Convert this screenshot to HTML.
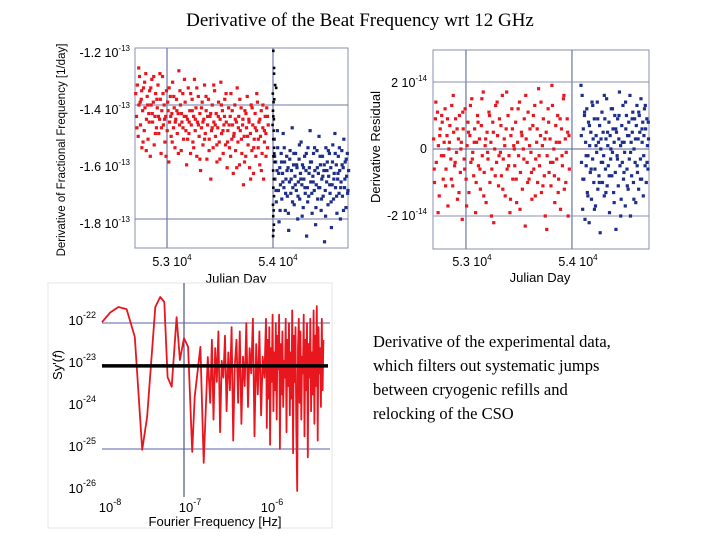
<!DOCTYPE html>
<html><head><meta charset="utf-8"><style>
html,body{margin:0;padding:0;background:#fff;}
svg{display:block;}
.ser{font-family:"Liberation Serif",serif;}
.san{font-family:"Liberation Sans",sans-serif;}
</style></head><body>
<svg id="root" width="720" height="540" viewBox="0 0 720 540" xmlns="http://www.w3.org/2000/svg">
<text class="ser" x="360" y="26" font-size="19" text-anchor="middle">Derivative of the Beat Frequency wrt 12 GHz</text>

<g class="ser" font-size="16.5" fill="#000">
<text x="373" y="347">Derivative of the experimental data,</text>
<text x="373" y="371">which filters out systematic jumps</text>
<text x="373" y="395">between cryogenic refills and</text>
<text x="373" y="419">relocking of the CSO</text>
</g>

<g id="c1">
<rect x="135" y="48" width="213" height="200" fill="#fff" stroke="#8a8fb0" stroke-width="1"/>
<g id="c1grid"></g>
<g id="c1pts"></g>
<g class="san" font-size="12.5" text-anchor="end">
<text x="130" y="57">-1.2 10<tspan font-size="8" dy="-6">-13</tspan></text>
<text x="130" y="114">-1.4 10<tspan font-size="8" dy="-6">-13</tspan></text>
<text x="130" y="171">-1.6 10<tspan font-size="8" dy="-6">-13</tspan></text>
<text x="130" y="228">-1.8 10<tspan font-size="8" dy="-6">-13</tspan></text>
</g>
<g class="san" font-size="12.5" text-anchor="middle">
<text x="172" y="266">5.3 10<tspan font-size="8" dy="-6">4</tspan></text>
<text x="278" y="266">5.4 10<tspan font-size="8" dy="-6">4</tspan></text>
</g>
<text class="san" x="236" y="283" font-size="13" text-anchor="middle">Julian Day</text>
<text class="san" transform="translate(65,150) rotate(-90)" font-size="11.5" text-anchor="middle">Derivative of Fractional Frequency [1/day]</text>
</g>

<g id="c2">
<rect x="433" y="50" width="216" height="199" fill="#fff" stroke="#8a8fb0" stroke-width="1"/>
<g id="c2grid"></g>
<g id="c2pts"></g>
<g class="san" font-size="12.5" text-anchor="end">
<text x="427" y="87">2 10<tspan font-size="8" dy="-6">-14</tspan></text>
<text x="427" y="153">0</text>
<text x="427" y="220">-2 10<tspan font-size="8" dy="-6">-14</tspan></text>
</g>
<g class="san" font-size="12.5" text-anchor="middle">
<text x="472" y="266">5.3 10<tspan font-size="8" dy="-6">4</tspan></text>
<text x="578" y="266">5.4 10<tspan font-size="8" dy="-6">4</tspan></text>
</g>
<text class="san" x="540" y="282" font-size="13" text-anchor="middle">Julian Day</text>
<text class="san" transform="translate(380,147) rotate(-90)" font-size="13" text-anchor="middle">Derivative Residual</text>
</g>

<g id="c3">
<rect x="48" y="283" width="284" height="245" fill="#fff" stroke="#e4e4e4" stroke-width="1"/>
<g id="c3grid"></g>
<g id="c3line"></g>
<g class="san" font-size="13" text-anchor="end">
<text x="96" y="325">10<tspan font-size="9" dy="-7">-22</tspan></text>
<text x="96" y="367">10<tspan font-size="9" dy="-7">-23</tspan></text>
<text x="96" y="409">10<tspan font-size="9" dy="-7">-24</tspan></text>
<text x="96" y="451">10<tspan font-size="9" dy="-7">-25</tspan></text>
<text x="96" y="493">10<tspan font-size="9" dy="-7">-26</tspan></text>
</g>
<g class="san" font-size="13" text-anchor="middle">
<text x="110" y="512">10<tspan font-size="9" dy="-7">-8</tspan></text>
<text x="190" y="512">10<tspan font-size="9" dy="-7">-7</tspan></text>
<text x="272" y="512">10<tspan font-size="9" dy="-7">-6</tspan></text>
</g>
<text class="san" x="215" y="526" font-size="13" text-anchor="middle">Fourier Frequency [Hz]</text>
<text class="san" transform="translate(62,365) rotate(-90)" font-size="13" text-anchor="middle">Sy'(<tspan font-style="italic">f</tspan>)</text>
</g>
</svg>
<script>
const c1RedX=[52705,52712,52720,52728,52735,52741,52750,52757,52763,52770,52778,52785,52792,52800,52806,52813,52821,52828,52836,52842,52850,52857,52864,52871,52879,52886,52893,52900,52908,52915,52922,52930,52937,52944,52951,52958,52966,52973,52980,52988,52995,53002,53010,53017,53024,53031,53039,53046,53053,53061,53068,53075,53083,53090,53097,53105,53112,53119,53127,53134,53141,53149,53156,53163,53171,53178,53185,53193,53200,53207,53215,53222,53229,53237,53244,53251,53259,53266,53273,53281,53288,53295,53303,53310,53317,53325,53332,53339,53347,53354,53361,53369,53376,53383,53391,53398,53405,53413,53420,53427,53435,53442,53449,53457,53464,53471,53479,53486,53493,53501,53508,53515,53523,53530,53537,53545,53552,53559,53567,53574,53581,53589,53596,53603,53611,53618,53625,53633,53640,53647,53655,53662,53669,53677,53684,53691,53699,53706,53713,53721,53728,53735,53743,53750,53757,53765,53772,53779,53787,53794,53801,53809,53816,53823,53831,53838,53845,53853,53860,53867,53875,53882,53889,53897,53904,53911,53919,53926,53933,53941,53948,53955,
52716,52733,52747,52761,52774,52789,52804,52818,52832,52847,52861,52875,52890,52904,52919,52933,52947,52962,52977,52991,53006,53020,53035,53049,53064,53078,53093,53107,53122,53136,53151,53165,53180,53194,53209,53223,53238,53252,53267,53281,53296,53310,53325,53339,53354,53368,53383,53397,53412,53426,53441,53455,53470,53484,53499,53513,53528,53542,53557,53571,53586,53600,53615,53629,53644,53658,53673,53687,53702,53716,53731,53745,53760,53774,53789,53803,53818,53832,53847,53861,53876,53890,53905,53919,53934,53948];
const c1RedY=[-1.36,-1.44,-1.33,-1.51,-1.40,-1.30,-1.47,-1.38,-1.55,-1.42,-1.34,-1.49,-1.41,-1.29,-1.45,-1.37,-1.52,-1.43,-1.35,-1.58,-1.40,-1.31,-1.46,-1.39,-1.54,-1.44,-1.36,-1.48,-1.41,-1.33,-1.50,-1.45,-1.38,-1.57,-1.42,-1.30,-1.47,-1.40,-1.53,-1.44,-1.35,-1.49,-1.42,-1.60,-1.46,-1.37,-1.51,-1.43,-1.32,-1.48,-1.41,-1.55,-1.45,-1.38,-1.50,-1.43,-1.28,-1.47,-1.40,-1.56,-1.46,-1.36,-1.52,-1.44,-1.39,-1.49,-1.61,-1.45,-1.34,-1.50,-1.42,-1.57,-1.47,-1.38,-1.53,-1.44,-1.31,-1.49,-1.41,-1.58,-1.46,-1.37,-1.51,-1.43,-1.63,-1.48,-1.39,-1.54,-1.45,-1.33,-1.50,-1.42,-1.59,-1.47,-1.38,-1.52,-1.44,-1.66,-1.49,-1.40,-1.55,-1.46,-1.35,-1.51,-1.43,-1.60,-1.48,-1.39,-1.53,-1.45,-1.32,-1.50,-1.42,-1.57,-1.47,-1.38,-1.54,-1.46,-1.62,-1.49,-1.41,-1.55,-1.44,-1.36,-1.52,-1.47,-1.64,-1.50,-1.40,-1.56,-1.46,-1.34,-1.53,-1.44,-1.61,-1.49,-1.41,-1.57,-1.47,-1.68,-1.51,-1.42,-1.58,-1.48,-1.37,-1.54,-1.45,-1.62,-1.50,-1.40,-1.56,-1.47,-1.64,-1.52,-1.43,-1.58,-1.49,-1.39,-1.55,-1.46,-1.61,-1.51,-1.42,-1.57,-1.48,-1.66,-1.53,-1.44,-1.50,-1.41,-1.55,-1.47,
-1.48,-1.27,-1.39,-1.35,-1.53,-1.32,-1.56,-1.40,-1.46,-1.34,-1.43,-1.30,-1.50,-1.38,-1.44,-1.29,-1.48,-1.36,-1.45,-1.58,-1.39,-1.34,-1.44,-1.53,-1.37,-1.46,-1.42,-1.57,-1.35,-1.43,-1.48,-1.31,-1.44,-1.52,-1.46,-1.36,-1.42,-1.55,-1.45,-1.34,-1.47,-1.59,-1.41,-1.46,-1.52,-1.37,-1.44,-1.56,-1.43,-1.48,-1.33,-1.47,-1.54,-1.44,-1.59,-1.40,-1.49,-1.44,-1.36,-1.53,-1.47,-1.58,-1.42,-1.51,-1.45,-1.62,-1.48,-1.38,-1.52,-1.45,-1.60,-1.43,-1.51,-1.46,-1.66,-1.41,-1.55,-1.48,-1.36,-1.52,-1.45,-1.63,-1.40,-1.49,-1.58,-1.44];
const c1BlueX=[54012,54018,54025,54031,54038,54044,54051,54057,54064,54070,54077,54083,54090,54096,54103,54109,54116,54122,54129,54135,54142,54148,54155,54161,54168,54174,54181,54187,54194,54200,54207,54213,54220,54226,54233,54239,54246,54252,54259,54265,54272,54278,54285,54291,54298,54304,54311,54317,54324,54330,54337,54343,54350,54356,54363,54369,54376,54382,54389,54395,54402,54408,54415,54421,54428,54434,54441,54447,54454,54460,54467,54473,54480,54486,54493,54499,54506,54512,54519,54525,54532,54538,54545,54551,54558,54564,54571,54577,54584,54590,54597,54603,54610,54616,54623,54629,54636,54642,54649,54655,54662,54668,54675,54681,54688,54694,54701,54707,54713,
54015,54028,54041,54054,54067,54080,54093,54106,54119,54132,54145,54158,54171,54184,54197,54210,54223,54236,54249,54262,54275,54288,54301,54314,54327,54340,54353,54366,54379,54392,54405,54418,54431,54444,54457,54470,54483,54496,54509,54522,54535,54548,54561,54574,54587,54600,54613,54626,54639,54652,54665,54678,54691,54704];
const c1BlueY=[-1.52,-1.66,-1.60,-1.74,-1.63,-1.55,-1.70,-1.81,-1.62,-1.68,-1.57,-1.73,-1.64,-1.50,-1.69,-1.60,-1.77,-1.66,-1.58,-1.72,-1.62,-1.84,-1.67,-1.56,-1.71,-1.63,-1.48,-1.69,-1.61,-1.75,-1.65,-1.57,-1.70,-1.62,-1.80,-1.67,-1.59,-1.73,-1.64,-1.53,-1.68,-1.61,-1.76,-1.66,-1.58,-1.71,-1.63,-1.86,-1.69,-1.55,-1.72,-1.62,-1.49,-1.67,-1.60,-1.78,-1.65,-1.57,-1.70,-1.63,-1.82,-1.68,-1.56,-1.73,-1.64,-1.51,-1.69,-1.61,-1.77,-1.66,-1.58,-1.72,-1.63,-1.88,-1.70,-1.55,-1.67,-1.60,-1.75,-1.65,-1.57,-1.71,-1.62,-1.83,-1.68,-1.54,-1.73,-1.64,-1.50,-1.69,-1.61,-1.78,-1.66,-1.58,-1.71,-1.63,-1.80,-1.67,-1.56,-1.72,-1.62,-1.52,-1.69,-1.60,-1.76,-1.65,-1.57,-1.70,-1.63,
-1.58,-1.70,-1.49,-1.64,-1.77,-1.60,-1.67,-1.55,-1.71,-1.63,-1.78,-1.59,-1.66,-1.74,-1.57,-1.68,-1.61,-1.72,-1.54,-1.66,-1.79,-1.62,-1.69,-1.57,-1.74,-1.64,-1.60,-1.71,-1.67,-1.55,-1.76,-1.62,-1.69,-1.58,-1.73,-1.65,-1.61,-1.79,-1.63,-1.56,-1.68,-1.74,-1.60,-1.66,-1.57,-1.72,-1.64,-1.55,-1.69,-1.61,-1.77,-1.66,-1.59,-1.71];
const c1BlackX=[54003,54010,54020,54030,53998,54005,54012,54000,54008,53996,54006,54002,54010,54004,54015,54001,54007,54003,54009,54000,54006,54002,54008,54004,54001,54010,54003,54012];
const c1BlackY=[-1.21,-1.27,-1.33,-1.34,-1.36,-1.39,-1.38,-1.42,-1.45,-1.47,-1.49,-1.52,-1.55,-1.58,-1.60,-1.63,-1.66,-1.69,-1.72,-1.75,-1.77,-1.79,-1.82,-1.84,-1.86,-1.29,-1.44,-1.57];
const c1GridX=[53000,54000];
const c1GridY=[-1.4,-1.8];

const c2RedX=[52695,52703,52712,52720,52731,52740,52748,52757,52768,52776,52785,52794,52803,52812,52821,52830,52839,52848,52857,52866,52875,52884,52893,52902,52911,52920,52929,52938,52947,52956,52965,52974,52983,52992,53001,53010,53019,53028,53037,53046,53055,53064,53073,53082,53091,53100,53109,53118,53127,53136,53145,53154,53163,53172,53181,53190,53199,53208,53217,53226,53235,53244,53253,53262,53271,53280,53289,53298,53307,53316,53325,53334,53343,53352,53361,53370,53379,53388,53397,53406,53415,53424,53433,53442,53451,53460,53469,53478,53487,53496,53505,53514,53523,53532,53541,53550,53559,53568,53577,53586,53595,53604,53613,53622,53631,53640,53649,53658,53667,53676,53685,53694,53703,53712,53721,53730,53739,53748,53757,53766,53775,53784,53793,53802,53811,53820,53829,53838,53847,53856,53865,53874,53883,53892,53901,53910,53919,53928,53937,53946,53955,53964,53972,
52700,52716,52737,52753,52771,52790,52808,52826,52844,52862,52880,52898,52916,52934,52952,52970,52988,53006,53024,53042,53060,53078,53096,53114,53132,53150,53168,53186,53204,53222,53240,53258,53276,53294,53312,53330,53348,53366,53384,53402,53420,53438,53456,53474,53492,53510,53528,53546,53564,53582,53600,53618,53636,53654,53672,53690,53708,53726,53744,53762,53780,53798,53816,53834,53852,53870,53888,53906,53924,53942,53960,53975];
const c2RedY=[0.3,-1.0,0.9,-0.4,1.1,0.1,-1.4,0.6,-0.2,0.8,-0.9,0.2,1.2,-0.6,0.4,-1.7,0.0,0.7,-0.3,1.3,-1.1,0.5,-0.5,0.9,-0.1,-1.5,0.3,1.0,-0.7,0.2,-2.1,0.6,-0.3,1.2,-0.9,0.1,0.8,-1.3,0.4,-0.4,1.5,-0.1,-0.8,0.6,-1.9,0.2,1.0,-0.5,0.3,-1.2,0.7,-0.2,1.7,-0.7,0.1,-1.6,0.5,-0.3,1.1,-1.0,0.2,-0.6,0.8,-2.2,0.0,1.3,-0.4,0.4,-1.1,0.9,-0.1,-0.8,1.6,-0.3,0.3,-1.4,0.6,-0.6,1.0,-0.2,-1.9,0.4,1.2,-0.9,0.1,-0.5,0.8,-1.6,0.2,-0.2,1.4,-0.7,0.5,-1.2,0.0,0.9,-2.3,0.3,-0.4,1.1,-0.9,0.6,-0.1,-1.5,0.7,-0.6,1.3,-0.3,0.2,-1.0,1.8,-0.5,0.4,-1.3,0.1,0.9,-0.8,-2.0,0.5,-0.2,1.2,-0.7,0.3,-1.1,1.9,-0.4,0.0,-1.6,0.7,-0.3,1.0,-0.9,0.2,-1.8,0.6,-0.5,1.5,-1.2,0.3,-0.1,0.9,-2.0,0.4,
-0.6,1.4,-1.9,0.4,1.0,-0.2,-1.1,0.9,0.2,-0.9,1.6,-0.4,0.6,-1.3,0.0,1.1,-0.6,-1.7,0.5,1.3,-0.3,0.2,-1.0,0.8,-0.6,1.5,-1.4,0.3,-0.1,1.0,-2.0,0.5,-0.8,1.4,-0.2,0.7,-1.2,0.1,1.7,-0.5,-1.5,0.6,0.0,-0.9,1.2,-1.8,0.4,-0.3,1.6,-1.0,0.1,-0.7,1.0,-1.4,0.6,-0.2,1.4,-1.1,0.3,-2.4,0.8,-0.4,1.3,-0.8,0.2,-1.3,0.9,-0.2,1.6,-1.0,0.5,-0.6];
const c2BlueX=[54085,54090,54096,54101,54107,54112,54118,54123,54129,54134,54140,54145,54151,54156,54162,54167,54173,54178,54184,54189,54195,54200,54206,54211,54217,54222,54228,54233,54239,54244,54250,54255,54261,54266,54272,54277,54283,54288,54294,54299,54305,54310,54316,54321,54327,54332,54338,54343,54349,54354,54360,54365,54371,54376,54382,54387,54393,54398,54404,54409,54415,54420,54426,54431,54437,54442,54448,54453,54459,54464,54470,54475,54481,54486,54492,54497,54503,54508,54514,54519,54525,54530,54536,54541,54547,54552,54558,54563,54569,54574,54580,54585,54591,54596,54602,54607,54613,54618,54624,54629,54635,54640,54646,54651,54657,54662,54668,54673,54679,54684,54690,54695,54701,54706,54712,54717,54722,
54088,54103,54119,54134,54150,54165,54181,54196,54212,54227,54243,54258,54274,54289,54305,54320,54336,54351,54367,54382,54398,54413,54429,54444,54460,54475,54491,54506,54522,54537,54553,54568,54584,54599,54615,54630,54646,54661,54677,54692,54708,54720];
const c2BlueY=[1.9,-0.4,1.6,-1.8,0.6,-0.9,1.0,-2.1,0.2,-0.5,1.2,-1.3,-0.2,0.8,-2.2,0.1,-0.7,0.5,-1.5,1.4,-0.3,0.3,-1.0,0.9,-0.6,-1.7,0.4,-0.1,1.4,-1.2,0.2,-0.8,0.7,-2.5,0.0,-0.4,1.1,-1.0,0.5,-0.2,-1.4,0.9,-0.6,0.3,1.5,-1.1,0.1,-0.5,0.8,-1.9,0.4,-0.3,1.2,-0.8,-0.1,0.6,-1.3,0.2,1.0,-0.7,-2.4,0.5,-0.2,0.9,-1.1,0.3,1.7,-0.5,0.1,-1.5,0.7,-0.4,1.3,-0.9,0.2,-0.1,-1.7,0.6,1.0,-0.6,0.4,-1.2,0.8,-0.3,1.6,-2.0,0.2,-0.8,0.5,1.1,-1.0,0.0,0.9,-0.4,-1.6,0.7,1.3,-0.7,0.3,-1.2,1.0,0.5,-0.3,1.5,-0.9,0.2,0.8,-1.4,0.4,1.2,-0.5,0.6,-1.0,0.9,0.1,-0.6,0.3,
0.4,-0.9,1.1,-0.2,-1.4,0.7,-0.6,1.3,-1.8,0.1,0.9,-1.0,0.3,-0.4,1.6,-1.3,0.5,-0.8,0.0,1.2,-1.6,0.6,-0.3,1.0,-2.0,0.2,-0.7,1.4,-1.1,0.4,-0.1,0.9,-1.5,0.3,-0.5,1.1,-0.9,0.6,-0.2,1.3,-0.4,0.8];
const c2GridX=[53000,54000];
const c2GridY=[2,0,-2];

const c3LogF=[-8.00,-7.90,-7.80,-7.70,-7.60,-7.51,-7.45,-7.35,-7.29,-7.24,-7.20,-7.15,-7.09,-7.05,-7.00,-6.95,-6.90,-6.87,-6.80,-6.76,-6.71,-6.68,-6.66,-6.64,-6.62,-6.60,-6.58,-6.56,-6.54,-6.52,-6.50,-6.48,-6.46,-6.44,-6.42,-6.40,-6.38,-6.36,-6.34,-6.32,-6.30,-6.28,-6.26,-6.24,-6.22,-6.20,-6.18,-6.16,-6.14,-6.12,-6.10,-6.08,-6.06,-6.04,-6.02,-6.00,-5.99,-5.98,-5.97,-5.96,-5.95,-5.94,-5.93,-5.92,-5.91,-5.90,-5.89,-5.88,-5.87,-5.86,-5.85,-5.84,-5.83,-5.82,-5.81,-5.80,-5.79,-5.78,-5.77,-5.76,-5.75,-5.74,-5.73,-5.72,-5.71,-5.70,-5.69,-5.68,-5.67,-5.66,-5.65,-5.64,-5.63,-5.62,-5.61,-5.60,-5.59,-5.58,-5.57,-5.56,-5.55,-5.54,-5.53,-5.52,-5.51,-5.50,-5.49,-5.48,-5.47,-5.46,-5.45,-5.44,-5.43,-5.42,-5.41,-5.40,-5.39,-5.38,-5.37,-5.36,-5.35,-5.34,-5.33,-5.32,-5.31,-5.30];
const c3LogS=[-21.98,-21.75,-21.62,-21.67,-22.33,-25.02,-24.24,-21.62,-21.38,-21.50,-23.29,-23.52,-21.86,-22.88,-22.36,-22.57,-25.07,-23.76,-22.57,-25.33,-22.81,-23.9,-22.4,-24.3,-22.6,-23.4,-22.2,-24.6,-22.9,-23.3,-22.3,-24.1,-22.7,-23.6,-22.1,-24.8,-23.0,-22.4,-23.9,-22.2,-24.4,-22.8,-23.5,-22.0,-24.0,-22.6,-23.2,-21.9,-24.7,-22.5,-23.7,-22.2,-24.2,-22.8,-23.3,-21.9,-24.5,-22.4,-23.8,-22.1,-24.9,-22.6,-23.4,-21.8,-24.1,-22.7,-23.6,-22.0,-24.3,-22.3,-23.1,-21.8,-25.0,-22.5,-23.7,-22.2,-24.0,-22.9,-23.3,-21.9,-24.6,-22.4,-23.5,-22.0,-24.2,-22.7,-23.8,-21.7,-25.1,-22.3,-23.4,-22.1,-24.5,-26.0,-22.6,-21.9,-23.9,-22.2,-24.3,-22.8,-23.2,-21.8,-24.7,-22.4,-23.6,-22.0,-25.2,-22.5,-23.3,-21.9,-24.1,-22.7,-23.7,-21.7,-24.4,-22.3,-23.5,-21.6,-24.8,-22.1,-23.2,-22.6,-24.0,-21.9,-23.6,-22.4];
const c3Ref=-23.02;
const c3GridX=[-7];
const c3GridY=[-22,-25];

const NS='http://www.w3.org/2000/svg';
function mk(tag,attrs,parent){const e=document.createElementNS(NS,tag);for(const k in attrs)e.setAttribute(k,attrs[k]);parent.appendChild(e);return e;}

const x1=d=>135+(d-52698)*0.106;
const y1=v=>105+(-1.4-v)*285;
const g1=document.getElementById('c1grid');
c1GridX.forEach(d=>{const l=mk('line',{x1:x1(d),x2:x1(d),y1:48,y2:248,stroke:'#6e76a4','stroke-width':1.2},g1);

});
c1GridY.forEach(v=>{const l=mk('line',{x1:135,x2:348,y1:y1(v),y2:y1(v),stroke:'#6e76a4','stroke-width':1},g1);

});
const p1=document.getElementById('c1pts');
function dots(xs,ys,fx,fy,col,par,name,r){xs.forEach((d,i)=>{const c=mk('rect',{x:fx(d)-r,y:fy(ys[i])-r,width:2*r,height:2*r,fill:col},par);

});}
dots(c1RedX,c1RedY,x1,y1,'#e8161e',p1,'red-point',1.6);
dots(c1BlueX,c1BlueY,x1,y1,'#1e2f8a',p1,'blue-point',1.6);
dots(c1BlackX,c1BlackY,x1,y1,'#000',p1,'black-point',1.3);

const x2=d=>433+(d-52689)*0.106;
const y2=v=>149-v*33.5;
const g2=document.getElementById('c2grid');
c2GridX.forEach(d=>{const l=mk('line',{x1:x2(d),x2:x2(d),y1:50,y2:249,stroke:'#6e76a4','stroke-width':1.2},g2);

});
c2GridY.forEach(v=>{const l=mk('line',{x1:433,x2:649,y1:y2(v),y2:y2(v),stroke:v===0?'#5a628f':'#8a90b4','stroke-width':1},g2);

});
const p2=document.getElementById('c2pts');
dots(c2RedX,c2RedY,x2,y2,'#e8161e',p2,'red-point',1.6);
dots(c2BlueX,c2BlueY,x2,y2,'#1e2f8a',p2,'blue-point',1.6);

const x3=lf=>102+(lf+8)*82;
const y3=ls=>323+(-22-ls)*42;
const g3=document.getElementById('c3grid');
c3GridX.forEach(lf=>{const l=mk('line',{x1:x3(lf),x2:x3(lf),y1:283,y2:497,stroke:'#2b2f6e','stroke-width':1},g3);

});
c3GridY.forEach(ls=>{const l=mk('line',{x1:102,x2:330,y1:y3(ls),y2:y3(ls),stroke:'#5a5fa8','stroke-width':1},g3);

});
const L3=document.getElementById('c3line');
const pth=mk('path',{d:c3LogF.map((f,i)=>(i?'L':'M')+x3(f).toFixed(1)+','+y3(c3LogS[i]).toFixed(1)).join(' '),fill:'none',stroke:'#e8161e','stroke-width':1.8,'stroke-linejoin':'round'},L3);


const ref=mk('line',{x1:102,x2:328,y1:y3(c3Ref),y2:y3(c3Ref),stroke:'#000','stroke-width':3.5},L3);


</script>
</body></html>
